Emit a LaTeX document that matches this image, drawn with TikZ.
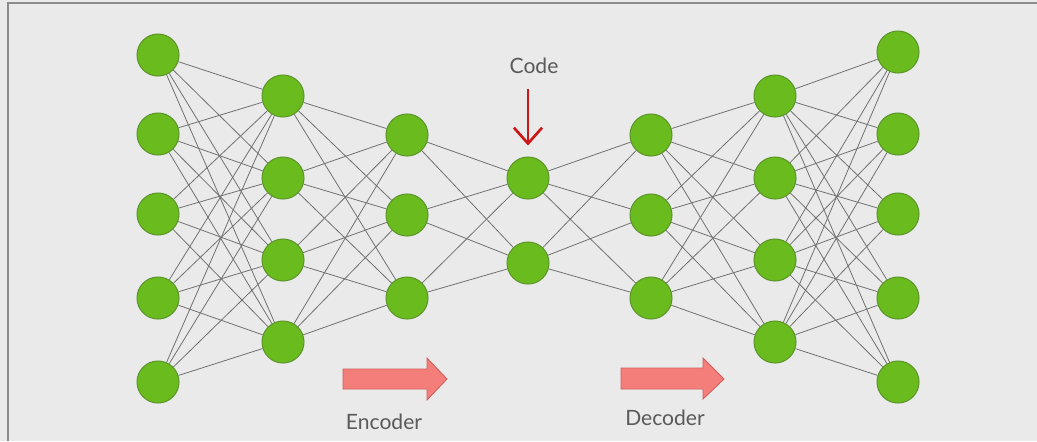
\documentclass[tikz,border=0pt]{standalone}
\usepackage{fontspec}
\setmainfont{Lato}
\usepackage{tikz}
\usetikzlibrary{arrows.meta}

\definecolor{bggray}{RGB}{234,234,234}
\definecolor{framegray}{RGB}{140,140,140}
\definecolor{nodegreen}{RGB}{106,188,30}
\definecolor{nodeedge}{RGB}{92,150,42}
\definecolor{edgegray}{RGB}{112,112,112}
\definecolor{codered}{RGB}{205,22,22}
\definecolor{salmon}{RGB}{244,126,122}
\definecolor{salmonedge}{RGB}{205,95,92}
\definecolor{labelgray}{RGB}{90,90,90}

\tikzset{
  neuron/.style={circle, draw=nodeedge, fill=nodegreen, line width=0.6pt, minimum size=0.84cm, inner sep=0pt},
  weight/.style={draw=edgegray, line width=0.45pt},
  flowarrow/.style={draw=salmonedge, fill=salmon, line width=0.5pt},
  caption/.style={text=labelgray, font=\fontsize{12}{14}\selectfont}
}

\begin{document}
\begin{tikzpicture}[x=0.02cm, y=-0.02cm]
    \useasboundingbox (0,0) rectangle (1037,441);
    \fill[bggray] (0,0) rectangle (1037,441);
    \draw[framegray, line width=0.8pt] (8,441) -- (8,3) -- (1037,3);

    % input layer
    \node (A1) at (158,55) [neuron] {};
    \node (A2) at (158,134) [neuron] {};
    \node (A3) at (158,214) [neuron] {};
    \node (A4) at (158,298) [neuron] {};
    \node (A5) at (158,382) [neuron] {};

    \node (B1) at (283,96) [neuron] {};
    \node (B2) at (283,178) [neuron] {};
    \node (B3) at (283,260) [neuron] {};
    \node (B4) at (283,342) [neuron] {};

    \node (D1) at (407,135) [neuron] {};
    \node (D2) at (407,215) [neuron] {};
    \node (D3) at (407,298) [neuron] {};

    % code layer
    \node (C1) at (528,178) [neuron] {};
    \node (C2) at (528,263) [neuron] {};

    \node (E1) at (651,135) [neuron] {};
    \node (E2) at (651,215) [neuron] {};
    \node (E3) at (651,298) [neuron] {};

    \node (F1) at (775,96) [neuron] {};
    \node (F2) at (775,178) [neuron] {};
    \node (F3) at (775,260) [neuron] {};
    \node (F4) at (775,342) [neuron] {};

    % output layer
    \node (G1) at (898,52) [neuron] {};
    \node (G2) at (898,134) [neuron] {};
    \node (G3) at (898,214) [neuron] {};
    \node (G4) at (898,298) [neuron] {};
    \node (G5) at (898,382) [neuron] {};

    \foreach \i in {1,...,5} \foreach \j in {1,...,4} \draw [weight] (A\i) -- (B\j);
    \foreach \i in {1,...,4} \foreach \j in {1,...,3} \draw [weight] (B\i) -- (D\j);
    \foreach \i in {1,...,3} \foreach \j in {1,2} \draw [weight] (D\i) -- (C\j);
    \foreach \i in {1,2} \foreach \j in {1,...,3} \draw [weight] (C\i) -- (E\j);
    \foreach \i in {1,...,3} \foreach \j in {1,...,4} \draw [weight] (E\i) -- (F\j);
    \foreach \i in {1,...,4} \foreach \j in {1,...,5} \draw [weight] (F\i) -- (G\j);

    \node (CodeText) at (534,66) [caption] {Code};
    \coordinate (CodeTop) at (528,89);
    \draw [codered, line width=1.5pt, -{Straight Barb[length=9pt, width=16pt]}, shorten >=0.22cm] (CodeTop) -- (C1.north);

    \draw [flowarrow] (343,369) -- (427,369) -- (427,358) -- (447,379) -- (427,400) -- (427,389) -- (343,389) -- cycle;
    \draw [flowarrow] (621,368) -- (703,368) -- (703,358) -- (724,379) -- (703,399) -- (703,389) -- (621,389) -- cycle;

    \node (EncText) at (384,422) [caption] {Encoder};
    \node (DecText) at (665,418) [caption] {Decoder};
\end{tikzpicture}
\end{document}
